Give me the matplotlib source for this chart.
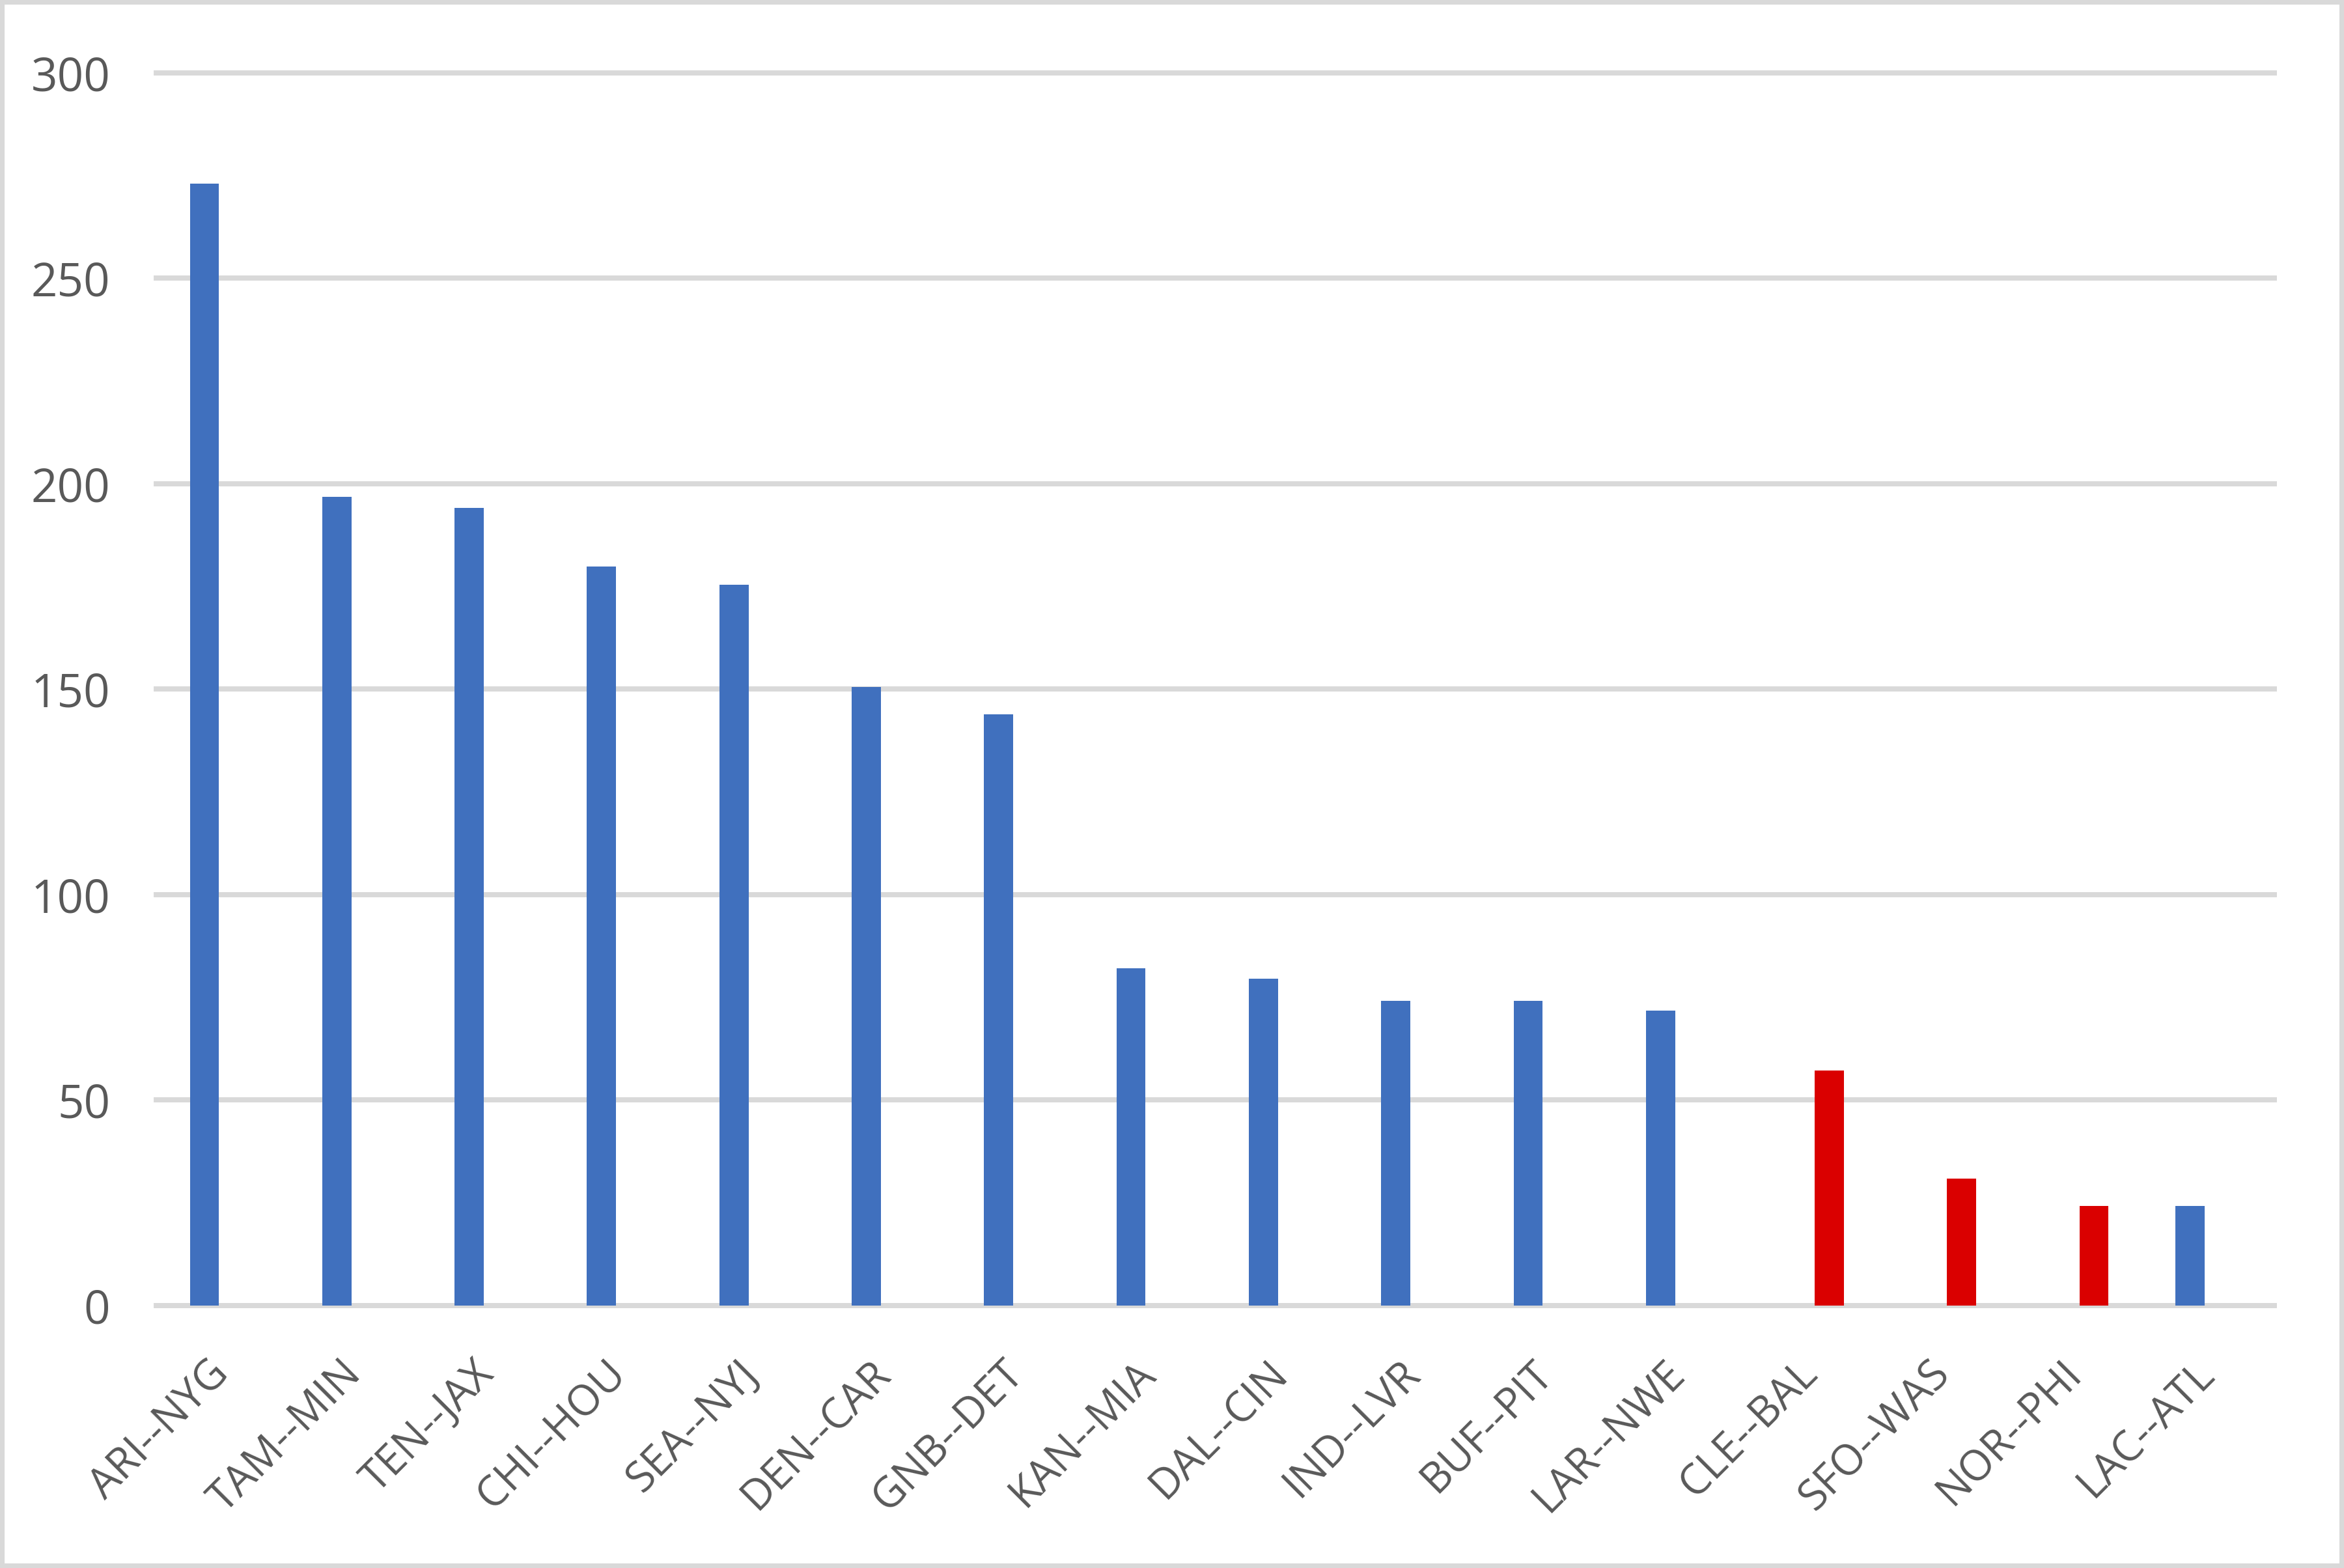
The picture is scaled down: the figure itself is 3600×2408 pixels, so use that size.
import matplotlib
matplotlib.use('Agg')
import matplotlib.pyplot as plt
from matplotlib.patches import Rectangle
import numpy as np

matchups = ['ARI--NYG', 'TAM--MIN', 'TEN--JAX', 'CHI--HOU', 'SEA--NYJ', 'DEN--CAR',
            'GNB--DET', 'KAN--MIA', 'DAL--CIN', 'IND--LVR', 'BUF--PIT', 'LAR--NWE',
            'CLE--BAL', 'SFO--WAS', 'NOR--PHI', 'LAC--ATL']
values = [273, 196.8, 194.2, 179.8, 175.5, 150.6, 143.9, 82.1, 79.6, 74.2, 74.2,
          71.7, 57.2, 30.9, 24.3, 24.3]
highlight = ['CLE--BAL', 'SFO--WAS', 'NOR--PHI']
y_ticks = [0, 50, 100, 150, 200, 250, 300]

blue = '#4070BE'
red = '#DA0000'
grey_text = '#595959'
grid_col = '#D9D9D9'

plt.rcParams['font.family'] = ['Open Sans', 'DejaVu Sans']

fig = plt.figure(figsize=(12, 2408 / 300), dpi=300)
ax = fig.add_axes([0.0667, 0.1674, 0.9036, 0.7861])

# two series like a clustered excel chart: normal games left, highlighted right
x = np.arange(len(matchups))
is_red = np.array([m in highlight for m in matchups])
vals = np.array(values)
off = 0.137
ax.bar(x[~is_red] - off, vals[~is_red], width=0.22, color=blue, zorder=3)
ax.bar(x[is_red] + off, vals[is_red], width=0.22, color=red, zorder=3)

ax.set_xlim(-0.5, len(matchups) - 0.5)
ax.set_ylim(0, 300)
ax.set_yticks(y_ticks)
ax.set_yticklabels([str(v) for v in y_ticks], fontsize=17, color=grey_text)
for v in y_ticks:
    ax.axhline(v, color=grid_col, lw=1.9, zorder=1, clip_on=False)

ax.set_xticks(x)
ax.set_xticklabels(matchups, rotation=45, ha='right', va='center',
                   rotation_mode='anchor', fontsize=15.5, color=grey_text)

ax.tick_params(axis='both', length=0)
ax.tick_params(axis='x', pad=22.9)
ax.tick_params(axis='y', pad=17)
for s in ax.spines.values():
    s.set_visible(False)

fig.patches.append(Rectangle((0, 0), 1, 1, transform=fig.transFigure,
                             fill=False, edgecolor=grid_col, lw=3.4))

fig.savefig('out.png', dpi=300, facecolor='white')
